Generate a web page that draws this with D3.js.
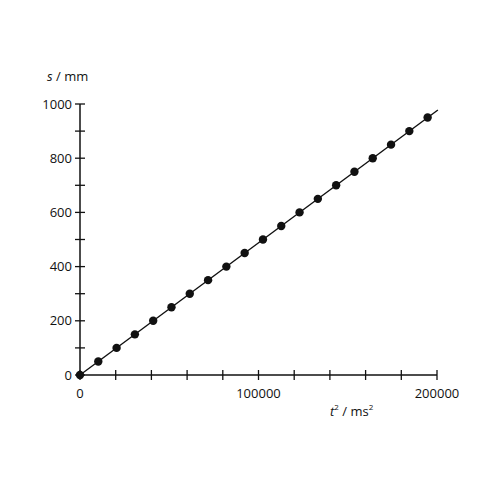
<!DOCTYPE html>
<html><head><meta charset="utf-8">
<script src="https://cdn.jsdelivr.net/npm/d3@7"></script>
<style>body{margin:0;background:#fff}svg{display:block}text{font-family:"Open Sans",sans-serif;fill:#111}</style>
</head><body>
<script>
const tSquared = [0,10250,20500,30750,41000,51250,61500,71750,82000,92250,102500,112750,123000,133250,143500,153750,164000,174250,184500,194750];
const distance = [0,50,100,150,200,250,300,350,400,450,500,550,600,650,700,750,800,850,900,950];
const fitLine = [[0,0],[200500,978]];
const xTicks = [0,20000,40000,60000,80000,100000,120000,140000,160000,180000,200000];
const xLabels = [0,100000,200000];
const yTicks = [0,100,200,300,400,500,600,700,800,900,1000];
const yLabels = [0,200,400,600,800,1000];

const svg = d3.select("body").append("svg").attr("width",500).attr("height",500);
const x = d3.scaleLinear().domain([0,200000]).range([80,437]);
const y = d3.scaleLinear().domain([0,1000]).range([375,104]);

// axes lines
svg.append("line").attr("x1",x(0)).attr("x2",x(200000)).attr("y1",y(0)).attr("y2",y(0)).attr("stroke","#111").attr("stroke-width",1.5);
svg.append("line").attr("x1",x(0)).attr("x2",x(0)).attr("y1",y(0)).attr("y2",y(1000)).attr("stroke","#111").attr("stroke-width",1.5);

svg.selectAll(".xt").data(xTicks).enter().append("line")
  .attr("x1",d=>x(d)).attr("x2",d=>x(d)).attr("y1",y(0)-5).attr("y2",y(0)+5)
  .attr("stroke","#111").attr("stroke-width",1.3);
svg.selectAll(".yt").data(yTicks).enter().append("line")
  .attr("y1",d=>y(d)).attr("y2",d=>y(d)).attr("x1",x(0)-5).attr("x2",x(0)+5)
  .attr("stroke","#111").attr("stroke-width",1.3);

svg.selectAll(".xl").data(xLabels).enter().append("text")
  .attr("x",d=>x(d)).attr("y",y(0)+23).attr("text-anchor","middle").attr("font-size",13).text(d=>d);
svg.selectAll(".yl").data(yLabels).enter().append("text")
  .attr("x",x(0)-8).attr("y",d=>y(d)+4.5).attr("text-anchor","end").attr("font-size",13).text(d=>d);

// fit line
svg.append("path").datum(fitLine).attr("d",d3.line().x(d=>x(d[0])).y(d=>y(d[1])))
  .attr("stroke","#111").attr("stroke-width",1.4).attr("fill","none");

svg.selectAll("circle").data(tSquared).enter().append("circle")
  .attr("cx",d=>x(d)).attr("cy",(d,i)=>y(distance[i])).attr("r",4.2).attr("fill","#111");

// axis titles
const yt = svg.append("text").attr("x",47).attr("y",81).attr("font-size",13);
yt.append("tspan").attr("font-style","italic").text("s");
yt.append("tspan").text(" / mm");
const xt = svg.append("text").attr("x",330).attr("y",416).attr("font-size",13);
xt.append("tspan").attr("font-style","italic").text("t");
xt.append("tspan").attr("font-size",8).attr("dy",-6).text("2");
xt.append("tspan").attr("dy",6).text(" / ms");
xt.append("tspan").attr("font-size",8).attr("dy",-6).text("2");
</script>
</body></html>
